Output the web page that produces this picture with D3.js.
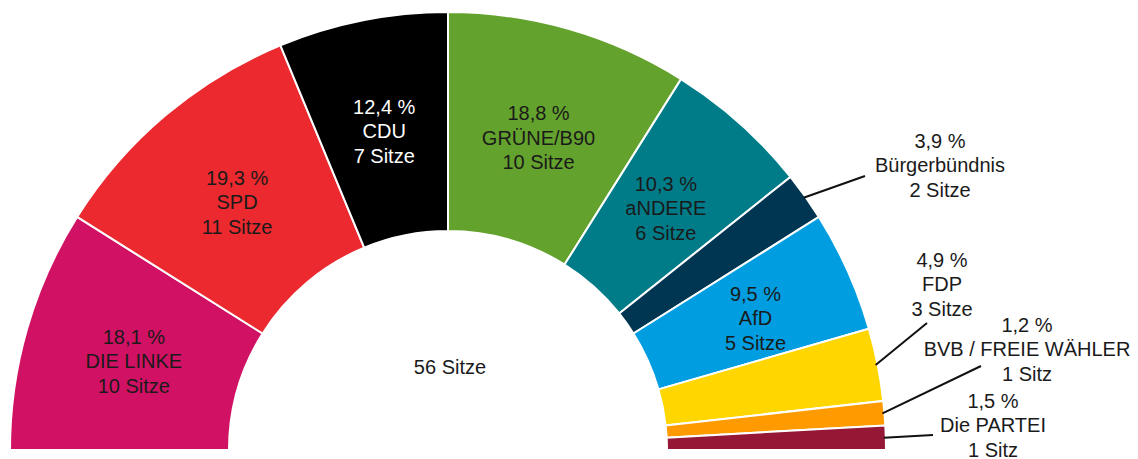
<!DOCTYPE html>
<html><head><meta charset="utf-8">
<script src="https://cdn.jsdelivr.net/npm/d3@7"></script>
<style>
html,body{margin:0;padding:0;background:#fff;}
svg{display:block;font-family:"Liberation Sans",Arial,Helvetica,sans-serif;}
</style></head>
<body>
<svg id="chart" width="1138" height="459"></svg>
<script>
// ---- data ----
const parties = ["DIE LINKE","SPD","CDU","GRÜNE/B90","aNDERE","Bürgerbündnis","AfD","FDP","BVB / FREIE WÄHLER","Die PARTEI"];
const seats   = [10, 11, 7, 10, 6, 2, 5, 3, 1, 1];
const percent = ["18,1 %","19,3 %","12,4 %","18,8 %","10,3 %","3,9 %","9,5 %","4,9 %","1,2 %","1,5 %"];
const seatLabels = ["10 Sitze","11 Sitze","7 Sitze","10 Sitze","6 Sitze","2 Sitze","5 Sitze","3 Sitze","1 Sitz","1 Sitz"];
const colors  = ["#D11163","#EB292E","#000000","#64A22E","#007C89","#013652","#009EE0","#FFD600","#FF9A00","#951735"];
const textColors = ["#1a1a1a","#1a1a1a","#ffffff","#1a1a1a","#1a1a1a","#1a1a1a","#1a1a1a","#1a1a1a","#1a1a1a","#1a1a1a"];
const totalLabel = "56 Sitze";

// ---- layout ----
const cx = 448, cy = 450, R = 438, r0 = 219, labelR = 327, lineH = 24.5;
const nudge = {"AfD": [9, 0]};
const external = {
  "Bürgerbündnis":      {x: 940,  y: 165, end: [865, 176]},
  "FDP":                {x: 942,  y: 284, end: [927, 323]},
  "BVB / FREIE WÄHLER": {x: 1027, y: 349, end: [981, 366]},
  "Die PARTEI":         {x: 993,  y: 425, end: [933, 435]}
};

const data = parties.map((p,i)=>({name:p, seats:seats[i], pct:percent[i], seatLabel:seatLabels[i], color:colors[i], tc:textColors[i]}));

const svg = d3.select("#chart");
const g = svg.append("g").attr("transform", `translate(${cx},${cy})`);

const pie = d3.pie().value(d=>d.seats).sort(null).startAngle(-Math.PI/2).endAngle(Math.PI/2);
const arcs = pie(data);
const arc = d3.arc().innerRadius(r0).outerRadius(R);
const labelArc = d3.arc().innerRadius(labelR).outerRadius(labelR);

g.selectAll("path.slice").data(arcs).join("path")
  .attr("class","slice")
  .attr("d", arc)
  .attr("fill", d=>d.data.color)
  .attr("stroke","#fff").attr("stroke-width",2).attr("stroke-linejoin","miter");

// inner labels
arcs.filter(a=>!external[a.data.name]).forEach(a=>{
  const [x,y] = labelArc.centroid(a);
  const n = nudge[a.data.name] || [0,0];
  const t = g.append("text").attr("text-anchor","middle").attr("font-size",20).attr("fill",a.data.tc);
  [a.data.pct, a.data.name, a.data.seatLabel].forEach((s,k)=>{
    t.append("tspan").attr("x", x+n[0]).attr("y", y+n[1]+9+(k-1)*lineH).text(s);
  });
});

// external labels with leader lines
arcs.filter(a=>external[a.data.name]).forEach(a=>{
  const e = external[a.data.name];
  const mid = (a.startAngle+a.endAngle)/2;
  const sx = cx + (R-2)*Math.sin(mid), sy = cy - (R-2)*Math.cos(mid);
  svg.append("line").attr("x1",sx).attr("y1",sy).attr("x2",e.end[0]).attr("y2",e.end[1])
    .attr("stroke","#111").attr("stroke-width",2);
  const t = svg.append("text").attr("text-anchor","middle").attr("font-size",20).attr("fill","#1a1a1a");
  [a.data.pct, a.data.name, a.data.seatLabel].forEach((s,k)=>{
    t.append("tspan").attr("x", e.x).attr("y", e.y+7+(k-1)*lineH).text(s);
  });
});

svg.append("text").attr("x", cx+2).attr("y", cy-76).attr("text-anchor","middle")
  .attr("font-size",20).attr("fill","#1a1a1a").text(totalLabel);
</script>
</body></html>
